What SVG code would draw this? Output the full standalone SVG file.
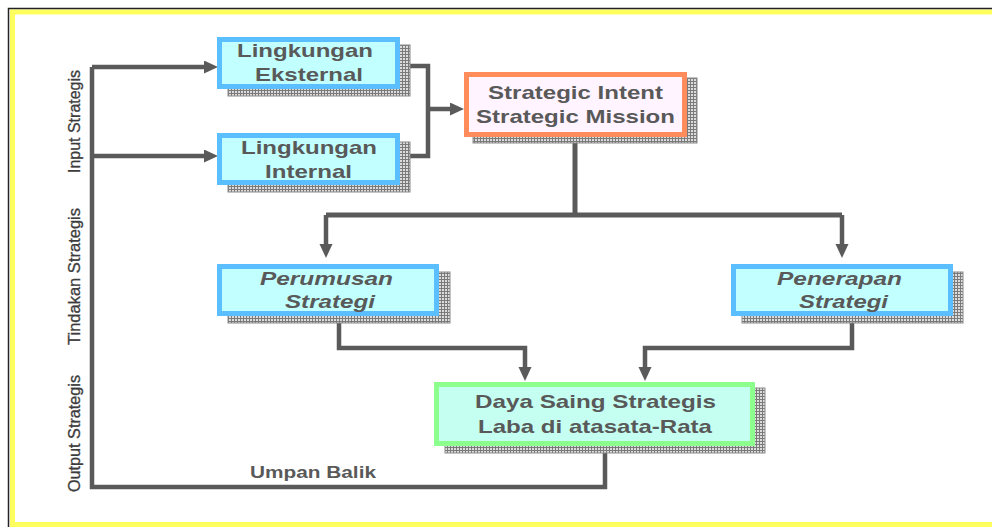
<svg xmlns="http://www.w3.org/2000/svg" width="992" height="527" viewBox="0 0 992 527">
<defs>
<style>
.t{font-family:"Liberation Sans",Arial,sans-serif;font-weight:bold;font-size:19px;fill:#595959}
.i{font-style:italic}
.v{font-family:"Liberation Sans",Arial,sans-serif;font-size:16px;fill:#3c3c3c;stroke:#3c3c3c;stroke-width:0.3}
.u{font-family:"Liberation Sans",Arial,sans-serif;font-weight:bold;font-size:16px;fill:#595959}
.sh{fill:url(#hatch);stroke:#8a8a8a;stroke-width:1}
.blue{fill:#C2FFFF;stroke:#5BBFFF;stroke-width:5}
.orange{fill:#FFF4FF;stroke:#FF8C5A;stroke-width:5}
.green{fill:#C4FFF2;stroke:#8CFF8C;stroke-width:5}
.c{fill:none;stroke:#5a5a5a;stroke-width:4.5;stroke-linejoin:miter}
.ca{fill:none;stroke:#5a5a5a;stroke-width:4.5;marker-end:url(#arr)}
</style>
<pattern id="hatch" width="3" height="3" patternUnits="userSpaceOnUse">
<rect width="3" height="3" fill="#dcdcdc"/>
<path d="M0 0.5H3M0.5 0V3" stroke="#7a7a7a" stroke-width="1"/>
</pattern>
<marker id="arr" markerUnits="userSpaceOnUse" markerWidth="16" markerHeight="14" refX="4" refY="6.5" orient="auto">
<path d="M0,0 L14,6.5 L0,13 z" fill="#5a5a5a"/>
</marker>
</defs>
<rect width="992" height="527" fill="#ffffff"/>
<rect x="12.5" y="12" width="990" height="512.5" fill="none" stroke="#FFFF5E" stroke-width="5"/>
<path d="M8.5 527V8.5H992" fill="none" stroke="#222" stroke-width="1.5"/>

<g id="connectors">
<path class="c" d="M605 447V487H92V67"/>
<path class="ca" d="M92 67H208"/>
<path class="ca" d="M92 156H208"/>
<path class="c" d="M400 66H428V156H400"/>
<path class="ca" d="M428 109H454"/>
<path class="c" d="M575 137V215" style="stroke-width:5"/>
<path class="c" d="M326 215H842" style="stroke-width:5"/>
<path class="ca" d="M326 215V248"/>
<path class="ca" d="M842 215V248"/>
<path class="ca" d="M339 316V348H525V371"/>
<path class="ca" d="M852 316V348H645V371"/>
</g>

<g id="lingkungan-eksternal">
<rect class="sh" x="228" y="45" width="182" height="51"/>
<rect class="blue" x="219.5" y="39.5" width="178" height="47"/>
<text class="t" x="237" y="57" textLength="136" lengthAdjust="spacingAndGlyphs">Lingkungan</text>
<text class="t" x="255" y="81" textLength="108" lengthAdjust="spacingAndGlyphs">Eksternal</text>
</g>

<g id="lingkungan-internal">
<rect class="sh" x="228" y="142" width="182" height="50"/>
<rect class="blue" x="219.5" y="135.5" width="178" height="47"/>
<text class="t" x="241" y="154" textLength="136" lengthAdjust="spacingAndGlyphs">Lingkungan</text>
<text class="t" x="265" y="178" textLength="87" lengthAdjust="spacingAndGlyphs">Internal</text>
</g>

<g id="strategic-intent">
<rect class="sh" x="473" y="78" width="224" height="65"/>
<rect class="orange" x="466.5" y="74.5" width="218" height="60"/>
<text class="t" x="488" y="99" textLength="175" lengthAdjust="spacingAndGlyphs">Strategic Intent</text>
<text class="t" x="476" y="123" textLength="199" lengthAdjust="spacingAndGlyphs">Strategic Mission</text>
</g>

<g id="perumusan-strategi">
<rect class="sh" x="228" y="272" width="222" height="51"/>
<rect class="blue" x="219.5" y="266.5" width="217" height="47"/>
<text class="t i" x="260" y="285" textLength="133" lengthAdjust="spacingAndGlyphs">Perumusan</text>
<text class="t i" x="285" y="308" textLength="90" lengthAdjust="spacingAndGlyphs">Strategi</text>
</g>

<g id="penerapan-strategi">
<rect class="sh" x="742" y="272" width="221" height="51"/>
<rect class="blue" x="733.5" y="266.5" width="217" height="47"/>
<text class="t i" x="777" y="285" textLength="125" lengthAdjust="spacingAndGlyphs">Penerapan</text>
<text class="t i" x="799" y="308" textLength="89" lengthAdjust="spacingAndGlyphs">Strategi</text>
</g>

<g id="daya-saing">
<rect class="sh" x="445" y="388" width="320" height="65"/>
<rect class="green" x="436.5" y="384.5" width="316" height="59"/>
<text class="t" x="475" y="408" textLength="241" lengthAdjust="spacingAndGlyphs">Daya Saing Strategis</text>
<text class="t" x="478" y="433" textLength="234" lengthAdjust="spacingAndGlyphs">Laba di atasata-Rata</text>
</g>

<g id="labels">
<text class="v" transform="translate(80,173) rotate(-90)" textLength="103" lengthAdjust="spacingAndGlyphs">Input Strategis</text>
<text class="v" transform="translate(80,345) rotate(-90)" textLength="137" lengthAdjust="spacingAndGlyphs">Tindakan Strategis</text>
<text class="v" transform="translate(80,492) rotate(-90)" textLength="117" lengthAdjust="spacingAndGlyphs">Output Strategis</text>
<text class="u" x="250" y="478" textLength="126" lengthAdjust="spacingAndGlyphs">Umpan Balik</text>
</g>
</svg>
